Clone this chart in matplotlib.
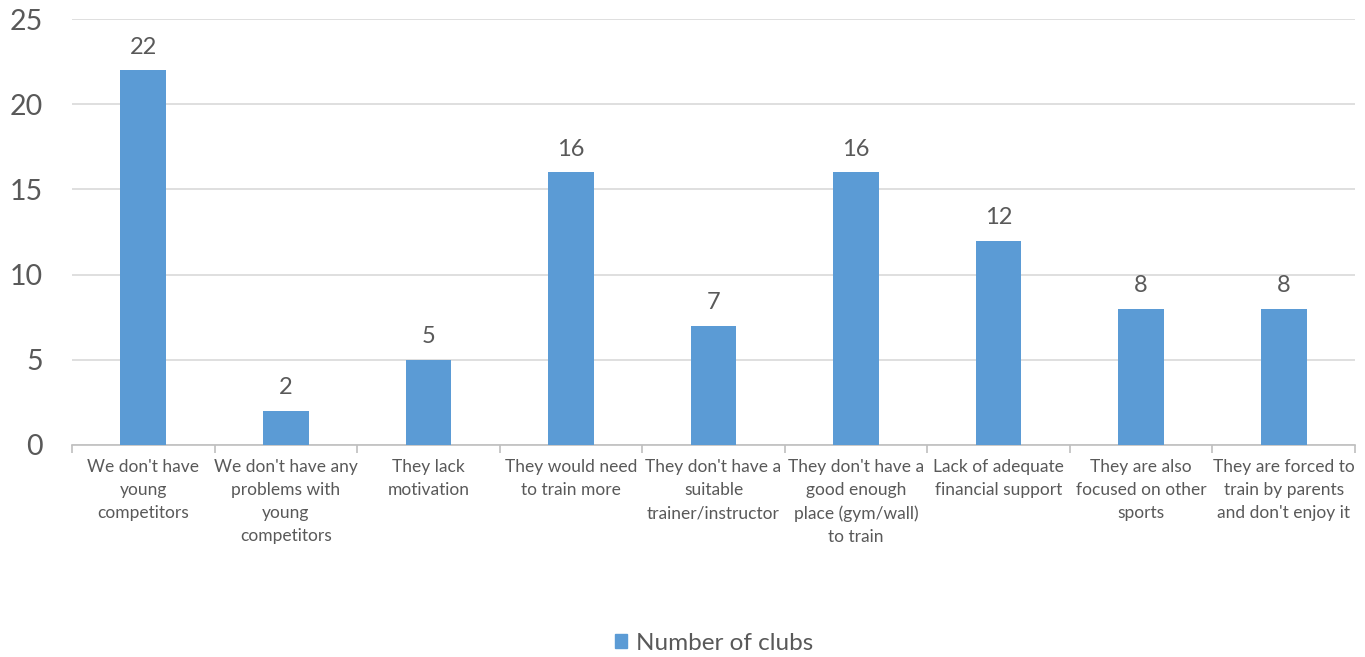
import matplotlib.pyplot as plt
import numpy as np
from matplotlib.patches import Patch

plt.rcParams['font.family'] = ['Lato', 'DejaVu Sans']

categories = [
    "We don't have\nyoung\ncompetitors",
    "We don't have any\nproblems with\nyoung\ncompetitors",
    "They lack\nmotivation",
    "They would need\nto train more",
    "They don't have a\nsuitable\ntrainer/instructor",
    "They don't have a\ngood enough\nplace (gym/wall)\nto train",
    "Lack of adequate\nfinancial support",
    "They are also\nfocused on other\nsports",
    "They are forced to\ntrain by parents\nand don't enjoy it",
]
clubs = [22, 2, 5, 16, 7, 16, 12, 8, 8]
y_ticks = [0, 5, 10, 15, 20, 25]

BAR = '#5B9BD5'
TEXT = '#595959'
GRID = '#D9D9D9'

fig = plt.figure(figsize=(13.65, 6.57), dpi=100)
ax = fig.add_axes([0.0527, 0.3227, 0.94, 0.6483])

x = np.arange(len(categories))
bars = ax.bar(x, clubs, width=0.32, color=BAR, zorder=3)
for rect, v in zip(bars, clubs):
    ax.annotate(str(v), (rect.get_x() + rect.get_width() / 2, v),
                xytext=(0, 9), textcoords='offset points',
                ha='center', va='bottom', fontsize=17, color=TEXT)

ax.set_xlim(-0.5, len(categories) - 0.5)
ax.set_ylim(0, 25)
ax.set_yticks(y_ticks)
ax.tick_params(axis='y', length=0, labelsize=20.5, labelcolor=TEXT, pad=21)
ax.yaxis.grid(True, color=GRID, linewidth=1.2, zorder=0)

# category labels centred on bars, tick marks on the category boundaries
ax.set_xticks(x)
ax.set_xticklabels(categories, fontsize=12.5, color=TEXT, linespacing=1.55)
ax.tick_params(axis='x', which='major', length=0, pad=10)
ax.set_xticks(np.arange(-0.5, len(categories)), minor=True)
ax.tick_params(axis='x', which='minor', length=6, color='#BFBFBF', width=1.2)

for side in ('top', 'right', 'left'):
    ax.spines[side].set_visible(False)
ax.spines['bottom'].set_color('#BFBFBF')
ax.spines['bottom'].set_linewidth(1.2)

fig.legend(handles=[Patch(color=BAR, label='Number of clubs')],
           loc='center', bbox_to_anchor=(0.523, 0.021), frameon=False,
           fontsize=17.5, labelcolor=TEXT, handlelength=0.5, handleheight=0.5,
           handletextpad=0.35)

fig.savefig('out.png', dpi=100)
